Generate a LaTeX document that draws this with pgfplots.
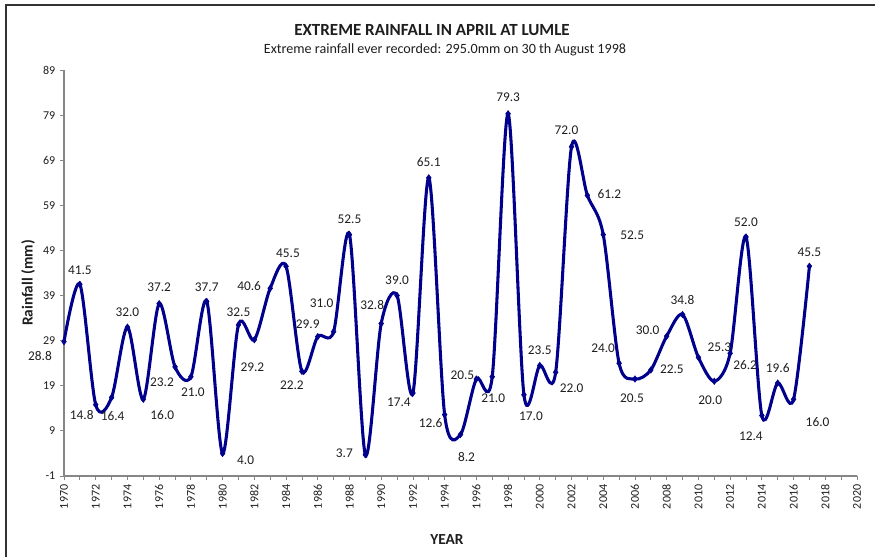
\documentclass[border=0pt]{standalone}
\usepackage{fontspec}
\setmainfont{Carlito}
\setsansfont{Carlito}
\usepackage{pgfplots}
\usepackage{pgfplotstable}
\pgfplotsset{compat=1.18}

\definecolor{navyline}{RGB}{0,0,140}
\definecolor{axisgray}{RGB}{134,134,134}
\definecolor{labeltext}{RGB}{30,30,30}

% year, rainfall (mm), label offset in px (dx right, dy up)
\pgfplotstableread{
year rain dx dy
1970 28.8 -24 -14
1971 41.5 0 14
1972 14.8 -14 -10
1973 16.4 1 -19
1974 32.0 0 15
1975 16.0 19 -16
1976 37.2 0 16
1977 23.2 -13 -15
1978 21.0 2 -15
1979 37.7 0 14
1980 4.0 23 -7
1981 32.5 0 13
1982 29.2 -2 -27
1983 40.6 -21 2
1984 45.5 2 13
1985 22.2 -10 -14
1986 29.9 -10 12
1987 31.0 -12 28
1988 52.5 0 15
1989 3.7 -21 2
1990 32.8 -9 19
1991 39.0 0 15
1992 17.4 -14 -9
1993 65.1 0 16
1994 12.6 -14 -8
1995 8.2 6 -22
1996 20.5 -14 4
1997 21.0 1 -21
1998 79.3 0 17
1999 17.0 7 -21
2000 23.5 0 15
2001 22.0 16 -16
2002 72.0 -5 16
2003 61.2 22 1
2004 52.5 29 -1
2005 24.0 -16 15
2006 20.5 -3 -19
2007 22.5 21 1
2008 30.0 -19 6
2009 34.8 0 15
2010 25.3 21 10
2011 20.0 -4 -19
2012 26.2 15 -12
2013 52.0 0 15
2014 12.4 -11 -21
2015 19.6 0 15
2016 16.0 24 -23
2017 45.5 0 14
}\rainfall

\begin{document}
\begin{tikzpicture}
\path[use as bounding box] (-48pt,-60.75pt) rectangle (608.25pt,357pt);
% chart frame (left and top edges only)
\draw[line width=1.1pt, black!80] (-43.5pt,-62pt) -- (-43.5pt,353.25pt) -- (610pt,353.25pt);

\begin{axis}[
    scale only axis,
    width=594.75pt, height=304.5pt,
    at={(0pt,0pt)}, anchor=south west,
    xmin=1970, xmax=2020,
    ymin=-1, ymax=89,
    xtick={1970,1972,...,2020},
    minor xtick={1971,1973,...,2019},
    ytick={-1,9,...,89},
    axis x line*=bottom,
    axis y line*=left,
    axis line style={axisgray, line width=0.8pt, -},
    tick align=outside,
    major tick length=3pt,
    minor tick length=3pt,
    tick style={axisgray, line width=0.6pt},
    tick label style={font=\fontsize{9}{10}\selectfont, text=labeltext},
    x tick label style={rotate=90, anchor=east},
    /pgf/number format/assume math mode=true,
    /pgf/number format/1000 sep={},
    clip=false,
]
\addplot[
    navyline, line width=2.3pt, smooth, tension=0.5,
    mark=diamond*, mark size=2.4pt,
    mark options={solid, line width=0.4pt, fill=navyline},
    point meta=y,
    nodes near coords={\pgfmathprintnumber[fixed,fixed zerofill,precision=1]{\pgfplotspointmeta}},
    visualization depends on=\thisrow{dx}\as\labdx,
    visualization depends on=\thisrow{dy}\as\labdy,
    every node near coord/.append style={
        anchor=center, inner sep=0pt,
        xshift=\labdx*0.75pt, yshift=\labdy*0.75pt,
        text=labeltext, font=\fontsize{10}{11}\selectfont},
] table[x=year, y=rain] {\rainfall};
\end{axis}

\node[font=\bfseries\fontsize{12.75}{14}\selectfont, text=labeltext] at (276pt,334.5pt) {EXTREME RAINFALL IN APRIL AT LUMLE};
\node[font=\fontsize{10.6}{12}\selectfont, text=labeltext] at (285.75pt,319.5pt) {Extreme rainfall ever recorded: 295.0mm on 30 th August 1998};
\node[font=\bfseries\fontsize{11.5}{13}\selectfont, text=labeltext, rotate=90] at (-27pt,144.75pt) {Rainfall (mm)};
\node[font=\bfseries\fontsize{11.5}{13}\selectfont, text=labeltext] at (287.25pt,-48pt) {YEAR};
\end{tikzpicture}
\end{document}
